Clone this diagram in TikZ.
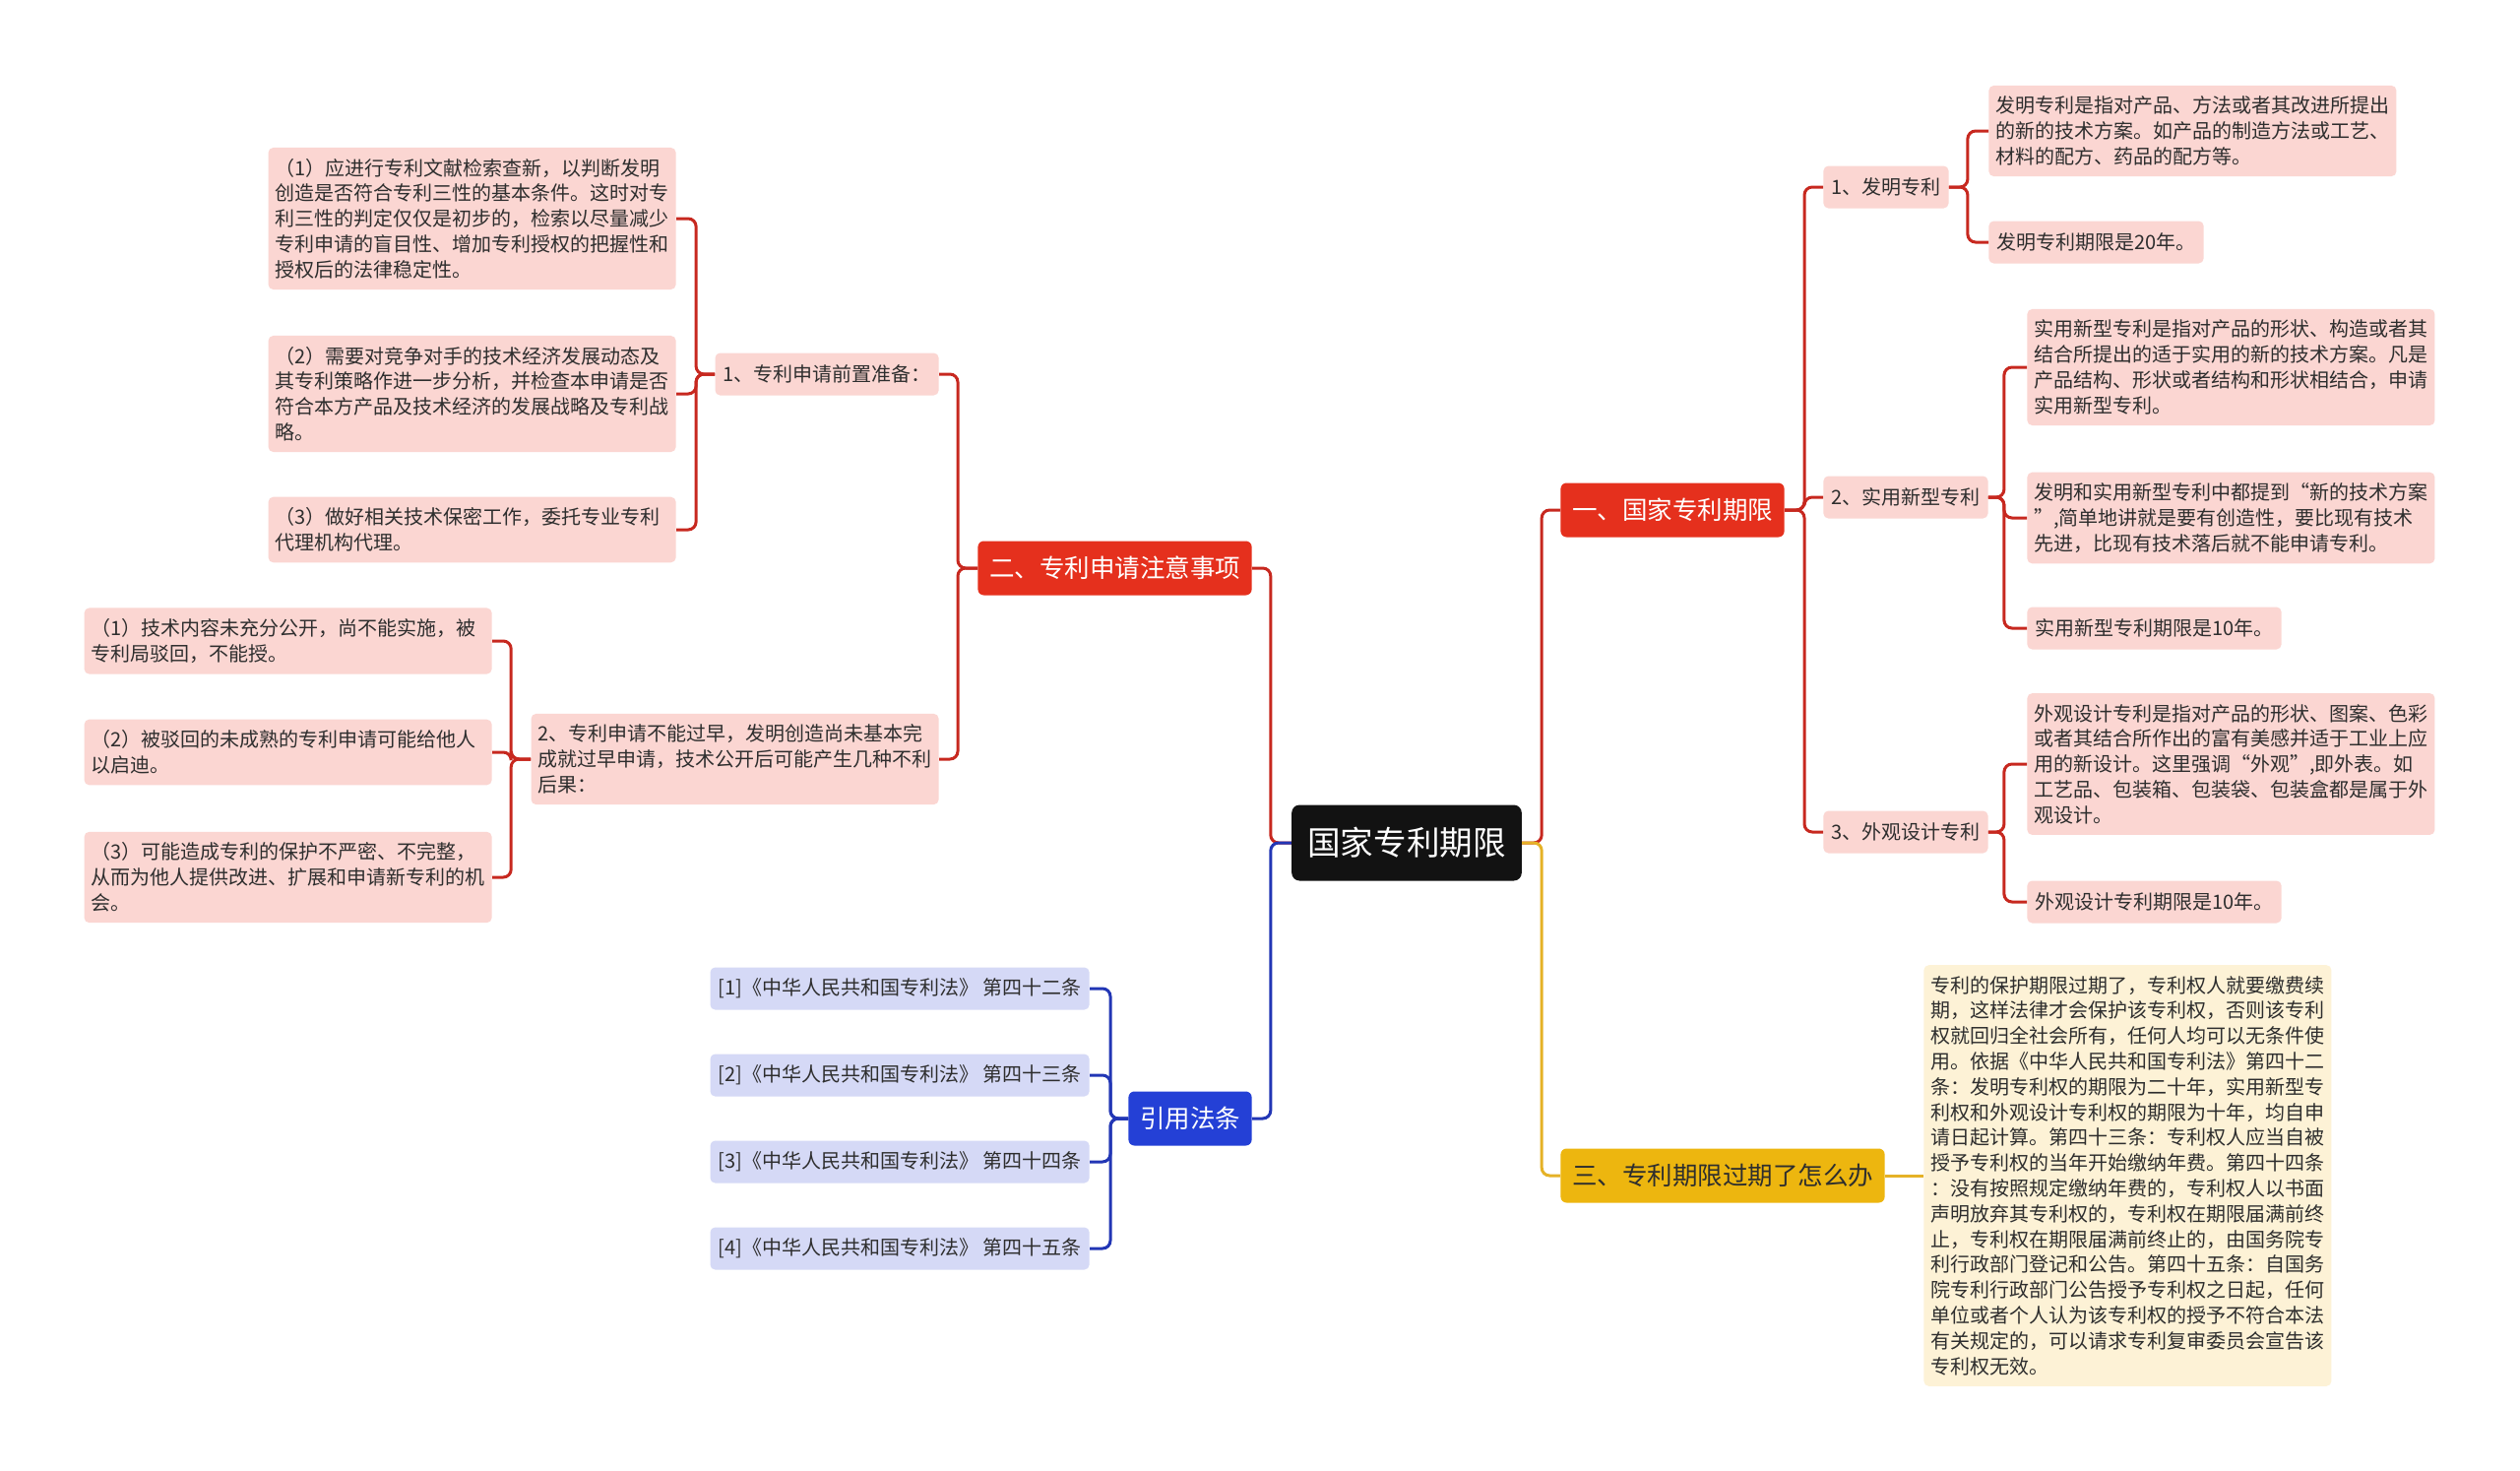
\documentclass[tikz,border=0pt]{standalone}
\usepackage{fontspec}
\setmainfont{Noto Sans CJK SC}
\usepackage{xcolor}
\definecolor{RootBlack}{HTML}{121212}
\definecolor{BranchRed}{HTML}{E5301D}
\definecolor{LineRed}{HTML}{C7281F}
\definecolor{LeafPink}{HTML}{FBD6D2}
\definecolor{BranchBlue}{HTML}{2440D6}
\definecolor{LineBlue}{HTML}{2236B5}
\definecolor{LeafBlue}{HTML}{D5D9F6}
\definecolor{BranchGold}{HTML}{EDB60F}
\definecolor{LineGold}{HTML}{E5B227}
\definecolor{LeafCream}{HTML}{FDF2D6}
\definecolor{LeafText}{HTML}{2E2E2E}
\usepackage{tikz}
\usetikzlibrary{positioning}

\begin{document}
\begin{tikzpicture}[x=0.5pt, y=-0.5pt,
  root/.style={fill=RootBlack, text=white, rounded corners=4pt, font=\fontsize{16.8}{20}\selectfont, inner xsep=8pt, minimum height=38.5pt},
  branch/.style={text=white, rounded corners=3pt, font=\fontsize{12.75}{15}\selectfont, inner xsep=5.8pt, minimum height=27.5pt},
  leaf/.style={fill=LeafPink, text=LeafText, rounded corners=2.5pt, font=\fontsize{10}{12.9}\selectfont, inner xsep=4pt, inner ysep=5.5pt, minimum height=21.5pt},
  note/.style={leaf, text width=200pt, inner xsep=3.5pt, align=left},
  link/.style={line width=1.5pt, rounded corners=4pt}]
  % Fondo y marco
  \fill[white] (0,0) rectangle (2560,1494);
  \useasboundingbox (0,0) rectangle (2560,1494);

  % Nodo central y ramas principales
  \node[root] (root) at (1429,856) {国家专利期限};
  \node[branch, fill=BranchRed, anchor=west] (term) at (1585,518) {一、国家专利期限};
  \node[branch, fill=BranchRed, anchor=east] (apply) at (1272,577) {二、专利申请注意事项};
  \node[branch, fill=BranchBlue, anchor=east] (refs) at (1272,1136) {引用法条};
  \node[branch, fill=BranchGold, text=LeafText, anchor=west] (expired) at (1585,1194) {三、专利期限过期了怎么办};

  % Rama 1: plazos
  \node[leaf, anchor=west] (invention) at (1852,190) {1、发明专利};
  \node[note, anchor=west] (inv1) at (2020,133) {发明专利是指对产品、方法或者其改进所提出\\的新的技术方案。如产品的制造方法或工艺、\\材料的配方、药品的配方等。};
  \node[leaf, anchor=west] (inv2) at (2020,246) {发明专利期限是20年。};
  \node[leaf, anchor=west] (utility) at (1852,505) {2、实用新型专利};
  \node[note, anchor=west] (util1) at (2059,373) {实用新型专利是指对产品的形状、构造或者其\\结合所提出的适于实用的新的技术方案。凡是\\产品结构、形状或者结构和形状相结合，申请\\实用新型专利。};
  \node[note, anchor=west] (util2) at (2059,526) {发明和实用新型专利中都提到“新的技术方案\\”,简单地讲就是要有创造性，要比现有技术\\先进，比现有技术落后就不能申请专利。};
  \node[leaf, anchor=west] (util3) at (2059,638) {实用新型专利期限是10年。};
  \node[leaf, anchor=west] (design) at (1852,845) {3、外观设计专利};
  \node[note, anchor=west] (des1) at (2059,776) {外观设计专利是指对产品的形状、图案、色彩\\或者其结合所作出的富有美感并适于工业上应\\用的新设计。这里强调“外观”,即外表。如\\工艺品、包装箱、包装袋、包装盒都是属于外\\观设计。};
  \node[leaf, anchor=west] (des2) at (2059,916) {外观设计专利期限是10年。};

  % Rama 2: solicitud
  \node[leaf, anchor=east] (prep) at (954,380) {1、专利申请前置准备：};
  \node[note, anchor=east] (prep1) at (687,222) {（1）应进行专利文献检索查新，以判断发明\\创造是否符合专利三性的基本条件。这时对专\\利三性的判定仅仅是初步的，检索以尽量减少\\专利申请的盲目性、增加专利授权的把握性和\\授权后的法律稳定性。};
  \node[note, anchor=east] (prep2) at (687,400) {（2）需要对竞争对手的技术经济发展动态及\\其专利策略作进一步分析，并检查本申请是否\\符合本方产品及技术经济的发展战略及专利战\\略。};
  \node[note, anchor=east] (prep3) at (687,538) {（3）做好相关技术保密工作，委托专业专利\\代理机构代理。};
  \node[note, anchor=east] (early) at (954,771) {2、专利申请不能过早，发明创造尚未基本完\\成就过早申请，技术公开后可能产生几种不利\\后果：};
  \node[note, anchor=east] (early1) at (500,651) {（1）技术内容未充分公开，尚不能实施，被\\专利局驳回，不能授。};
  \node[note, anchor=east] (early2) at (500,764) {（2）被驳回的未成熟的专利申请可能给他人\\以启迪。};
  \node[note, anchor=east] (early3) at (500,891) {（3）可能造成专利的保护不严密、不完整，\\从而为他人提供改进、扩展和申请新专利的机\\会。};

  % Rama 3: vencimiento
  \node[note, fill=LeafCream, anchor=west] (expnote) at (1954,1194) {专利的保护期限过期了，专利权人就要缴费续\\期，这样法律才会保护该专利权，否则该专利\\权就回归全社会所有，任何人均可以无条件使\\用。依据《中华人民共和国专利法》第四十二\\条：发明专利权的期限为二十年，实用新型专\\利权和外观设计专利权的期限为十年，均自申\\请日起计算。第四十三条：专利权人应当自被\\授予专利权的当年开始缴纳年费。第四十四条\\：没有按照规定缴纳年费的，专利权人以书面\\声明放弃其专利权的，专利权在期限届满前终\\止，专利权在期限届满前终止的，由国务院专\\利行政部门登记和公告。第四十五条：自国务\\院专利行政部门公告授予专利权之日起，任何\\单位或者个人认为该专利权的授予不符合本法\\有关规定的，可以请求专利复审委员会宣告该\\专利权无效。};

  % Leyes citadas
  \node[leaf, fill=LeafBlue, anchor=east] (ref1) at (1107,1004) {[1]《中华人民共和国专利法》 第四十二条};
  \node[leaf, fill=LeafBlue, anchor=east] (ref2) at (1107,1092) {[2]《中华人民共和国专利法》 第四十三条};
  \node[leaf, fill=LeafBlue, anchor=east] (ref3) at (1107,1180) {[3]《中华人民共和国专利法》 第四十四条};
  \node[leaf, fill=LeafBlue, anchor=east] (ref4) at (1107,1268) {[4]《中华人民共和国专利法》 第四十五条};

  % Conectores del tronco
  \draw[link, LineRed] (root.west) -- ++(-21,0) |- (apply.east);
  \draw[link, LineBlue] (root.west) -- ++(-21,0) |- (refs.east);
  \draw[link, LineRed] (root.east) -- ++(20,0) |- (term.west);
  \draw[link, LineGold] (root.east) -- ++(20,0) |- (expired.west);

  % Conectores rama 1
  \draw[link, LineRed] (term.east) -- ++(20,0) |- (invention.west);
  \draw[link, LineRed] (term.east) -- ++(20,0) |- (utility.west);
  \draw[link, LineRed] (term.east) -- ++(20,0) |- (design.west);
  \draw[link, LineRed] (invention.east) -- ++(19,0) |- (inv1.west);
  \draw[link, LineRed] (invention.east) -- ++(19,0) |- (inv2.west);
  \draw[link, LineRed] (utility.east) -- ++(16,0) |- (util1.west);
  \draw[link, LineRed] (utility.east) -- ++(16,0) |- (util2.west);
  \draw[link, LineRed] (utility.east) -- ++(16,0) |- (util3.west);
  \draw[link, LineRed] (design.east) -- ++(16,0) |- (des1.west);
  \draw[link, LineRed] (design.east) -- ++(16,0) |- (des2.west);

  % Conectores rama 2
  \draw[link, LineRed] (apply.west) -- ++(-20,0) |- (prep.east);
  \draw[link, LineRed] (apply.west) -- ++(-20,0) |- (early.east);
  \draw[link, LineRed] (prep.west) -- ++(-19,0) |- (prep1.east);
  \draw[link, LineRed] (prep.west) -- ++(-19,0) |- (prep2.east);
  \draw[link, LineRed] (prep.west) -- ++(-19,0) |- (prep3.east);
  \draw[link, LineRed] (early.west) -- ++(-20,0) |- (early1.east);
  \draw[link, LineRed] (early.west) -- ++(-20,0) |- (early2.east);
  \draw[link, LineRed] (early.west) -- ++(-20,0) |- (early3.east);

  % Conectores rama 3 y leyes
  \draw[link, LineGold] (expired.east) -- (expnote.west);
  \draw[link, LineBlue] (refs.west) -- ++(-18,0) |- (ref1.east);
  \draw[link, LineBlue] (refs.west) -- ++(-18,0) |- (ref2.east);
  \draw[link, LineBlue] (refs.west) -- ++(-18,0) |- (ref3.east);
  \draw[link, LineBlue] (refs.west) -- ++(-18,0) |- (ref4.east);
\end{tikzpicture}
\end{document}
